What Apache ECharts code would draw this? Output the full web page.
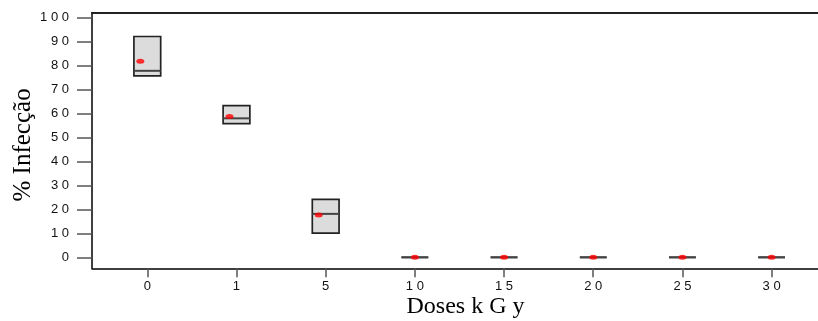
<!DOCTYPE html>
<html>
<head>
<meta charset="utf-8">
<script src="https://cdn.jsdelivr.net/npm/echarts@6/dist/echarts.min.js"></script>
<style>
html,body{margin:0;padding:0;background:#fff;}
#chart{width:818px;height:321px;}
</style>
</head>
<body>
<div id="chart"></div>
<script>
// ---- data ----
const doseLabels = ['0', '1', '5', '10', '15', '20', '25', '30'];
const q1Values     = [75.6, 55.7, 10.1, 0, 0, 0, 0, 0];
const medianValues = [77.7, 57.9, 18.1, 0, 0, 0, 0, 0];
const q3Values     = [92.0, 63.2, 24.1, 0, 0, 0, 0, 0];
const meanValues   = [81.7, 58.7, 17.6, 0, 0, 0, 0, 0];
const yTickValues  = [0, 10, 20, 30, 40, 50, 60, 70, 80, 90, 100];
const xTitle = 'Doses k G y';
const yTitle = '% Infecção';

// ---- styling ----
const BOX_HALF = 0.15;
const spaced = s => String(s).split('').join(' ');
const catIdx = doseLabels.map((_, i) => i);

const boxData = catIdx.map(i => [i, q1Values[i], medianValues[i], q3Values[i]]);
const meanData = catIdx.map(i => ({
  value: [i, meanValues[i]],
  symbolOffset: meanValues[i] > 0 ? [-7, 0] : [0, 0]
}));

const chart = echarts.init(document.getElementById('chart'), null, {renderer: 'canvas'});
chart.setOption({
  animation: false,
  backgroundColor: '#ffffff',
  grid: {left: 92, right: 0, top: 12.5, bottom: 52.7, containLabel: false, outerBoundsMode: 'none'},
  xAxis: [{
    type: 'value', position: 'bottom', min: -0.62, max: 7.52,
    axisLine: {show: true, onZero: false, lineStyle: {color: '#000', width: 1.5}},
    axisTick: {show: true, customValues: catIdx, length: 9, lineStyle: {color: '#555', width: 1.5}},
    axisLabel: {show: true, customValues: catIdx, margin: 12, color: '#111',
      fontFamily: 'Liberation Sans', fontSize: 13,
      formatter: v => spaced(doseLabels[Math.round(v)])},
    splitLine: {show: false},
    name: xTitle, nameLocation: 'middle', nameGap: 26, nameMoveOverlap: false,
    nameTextStyle: {fontFamily: 'Liberation Serif', fontSize: 24, color: '#000', padding: [0, 0, 0, 21]}
  }, {
    type: 'value', position: 'top', min: -0.62, max: 7.52,
    axisLine: {show: true, onZero: false, lineStyle: {color: '#222', width: 2}},
    axisTick: {show: false}, axisLabel: {show: false}, splitLine: {show: false}
  }],
  yAxis: {
    type: 'value', min: -4.58, max: 102,
    axisLine: {show: true, onZero: false, lineStyle: {color: '#000', width: 1.5}},
    axisTick: {show: true, customValues: yTickValues, length: 15, lineStyle: {color: '#555', width: 1.5}},
    axisLabel: {show: true, customValues: yTickValues, margin: 23, color: '#111',
      fontFamily: 'Liberation Sans', fontSize: 13,
      formatter: v => spaced(Math.round(v))},
    splitLine: {show: false},
    name: yTitle, nameLocation: 'middle', nameGap: 56, nameMoveOverlap: false,
    nameTextStyle: {fontFamily: 'Liberation Serif', fontSize: 25, color: '#000', padding: [0, 9, 0, 0]}
  },
  series: [{
    type: 'custom',
    xAxisIndex: 0,
    data: boxData,
    renderItem: function (params, api) {
      const x = api.value(0);
      const p1 = api.coord([x - BOX_HALF, api.value(3)]);
      const p2 = api.coord([x + BOX_HALF, api.value(1)]);
      const m1 = api.coord([x - BOX_HALF, api.value(2)]);
      const m2 = api.coord([x + BOX_HALF, api.value(2)]);
      return {
        type: 'group',
        children: [{
          type: 'rect',
          shape: {x: p1[0], y: p1[1], width: p2[0] - p1[0], height: p2[1] - p1[1]},
          style: {fill: '#dcdcdc', stroke: '#222', lineWidth: 1.7}
        }, {
          type: 'line',
          shape: {x1: m1[0], y1: m1[1], x2: m2[0], y2: m2[1]},
          style: {stroke: '#444', lineWidth: 2}
        }]
      };
    }
  }, {
    type: 'scatter',
    xAxisIndex: 0,
    data: meanData,
    symbol: 'circle',
    symbolSize: [8, 5],
    itemStyle: {color: '#ff0000'},
    z: 5
  }]
});
</script>
</body>
</html>
